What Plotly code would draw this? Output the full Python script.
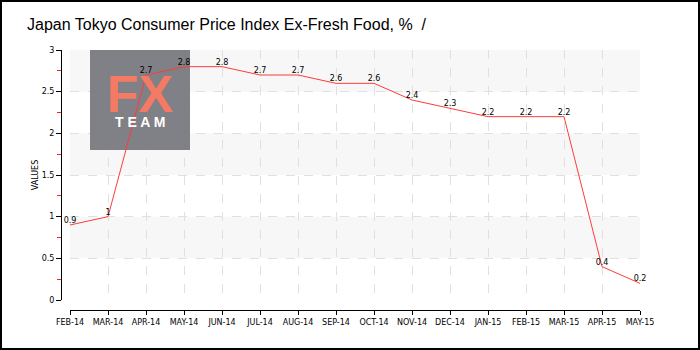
import plotly.graph_objects as go

months = ["FEB-14", "MAR-14", "APR-14", "MAY-14", "JUN-14", "JUL-14", "AUG-14", "SEP-14",
          "OCT-14", "NOV-14", "DEC-14", "JAN-15", "FEB-15", "MAR-15", "APR-15", "MAY-15"]
values = [0.9, 1.0, 2.7, 2.8, 2.8, 2.7, 2.7, 2.6, 2.6, 2.4, 2.3, 2.2, 2.2, 2.2, 0.4, 0.2]
y_ticks = [0, 0.5, 1, 1.5, 2, 2.5, 3]
title_text = "Japan Tokyo Consumer Price Index Ex-Fresh Food, %  /"

W, H = 700, 350
L, R, T, B = 61, 60, 50, 40
pw = W - L - R   # 579
ph = H - T - B   # 260
xs = list(range(len(months)))

# pixel -> data helpers for the logo box (plot area 70..640 x, 50..300 y)
def px_to_x(px):
    return (px - 70) / (570 / (len(months) - 1))

def py_to_y(py):
    return (300 - py) / (250 / 3)

fig = go.Figure()
fig.add_trace(go.Scatter(
    x=xs, y=values, mode="lines+text",
    line=dict(color="#ff3b3b", width=1),
    text=[f"{v:g}" for v in values], textposition="top center",
    textfont=dict(family="DejaVu Sans", size=8, color="#000"),
    cliponaxis=False, hoverinfo="skip", showlegend=False,
))

shapes = []
# alternating bands
for i in range(len(y_ticks) - 1):
    if i % 2 == 1:
        shapes.append(dict(type="rect", xref="x", yref="y", x0=0, x1=len(months) - 1,
                           y0=y_ticks[i], y1=y_ticks[i + 1], fillcolor="#f7f7f7",
                           line=dict(width=0), layer="below"))
# logo box
shapes.append(dict(type="rect", xref="x", yref="y",
                   x0=px_to_x(90), x1=px_to_x(190),
                   y0=py_to_y(150), y1=py_to_y(50),
                   fillcolor="#76767e", opacity=0.93, line=dict(width=0), layer="between"))
# outer border
shapes.append(dict(type="rect", xref="paper", yref="paper",
                   x0=(1 - L) / pw, x1=(699 - L) / pw,
                   y0=(310 - 349) / ph, y1=(310 - 1) / ph,
                   line=dict(color="#000", width=2), fillcolor="rgba(0,0,0,0)", layer="above"))

annotations = [
    dict(text="<b>FX</b>", xref="paper", yref="paper", x=(140 - L) / pw, y=(310 - 94) / ph,
         showarrow=False, font=dict(family="Liberation Sans", size=52, color="#f47a63"),
         xanchor="center", yanchor="middle"),
    dict(text="<b>T E A M</b>", xref="paper", yref="paper", x=(140 - L) / pw, y=(310 - 122) / ph,
         showarrow=False, font=dict(family="Liberation Sans", size=14, color="#ffffff"),
         xanchor="center", yanchor="middle"),
]

fig.update_layout(
    width=W, height=H,
    margin=dict(l=L, r=R, t=T, b=B),
    paper_bgcolor="white", plot_bgcolor="white",
    title=dict(text=title_text, x=27 / W, xanchor="left", xref="container",
               y=1 - 24 / H, yanchor="middle", yref="container",
               font=dict(family="Liberation Sans", size=16, color="#000")),
    shapes=shapes, annotations=annotations,
    xaxis=dict(domain=[(70 - L) / pw, 1], range=[0, len(months) - 1],
               anchor="free", position=0,
               tickmode="array", tickvals=xs, ticktext=months,
               tickfont=dict(family="DejaVu Sans", size=8, color="#000"),
               ticks="outside", ticklen=4, tickcolor="#000",
               showline=True, linecolor="#000", linewidth=1,
               showgrid=True, gridcolor="#e0e0e0", griddash="dash", gridwidth=1,
               zeroline=False, tickangle=0),
    yaxis=dict(domain=[10 / ph, 1], range=[0, 3],
               anchor="free", position=0,
               tickmode="linear", tick0=0, dtick=0.5,
               tickfont=dict(family="DejaVu Sans", size=8, color="#000"),
               ticks="outside", ticklen=5, tickcolor="#000",
               minor=dict(dtick=0.25, tick0=0, ticks="outside", ticklen=4, tickcolor="#ff2020", showgrid=False),
               showline=True, linecolor="#000", linewidth=1,
               showgrid=True, gridcolor="#e0e0e0", griddash="dash", gridwidth=1,
               zeroline=False,
               title=dict(text="VALUES", font=dict(family="DejaVu Sans", size=8, color="#000"), standoff=0)),
)

fig.write_html("out.html")
